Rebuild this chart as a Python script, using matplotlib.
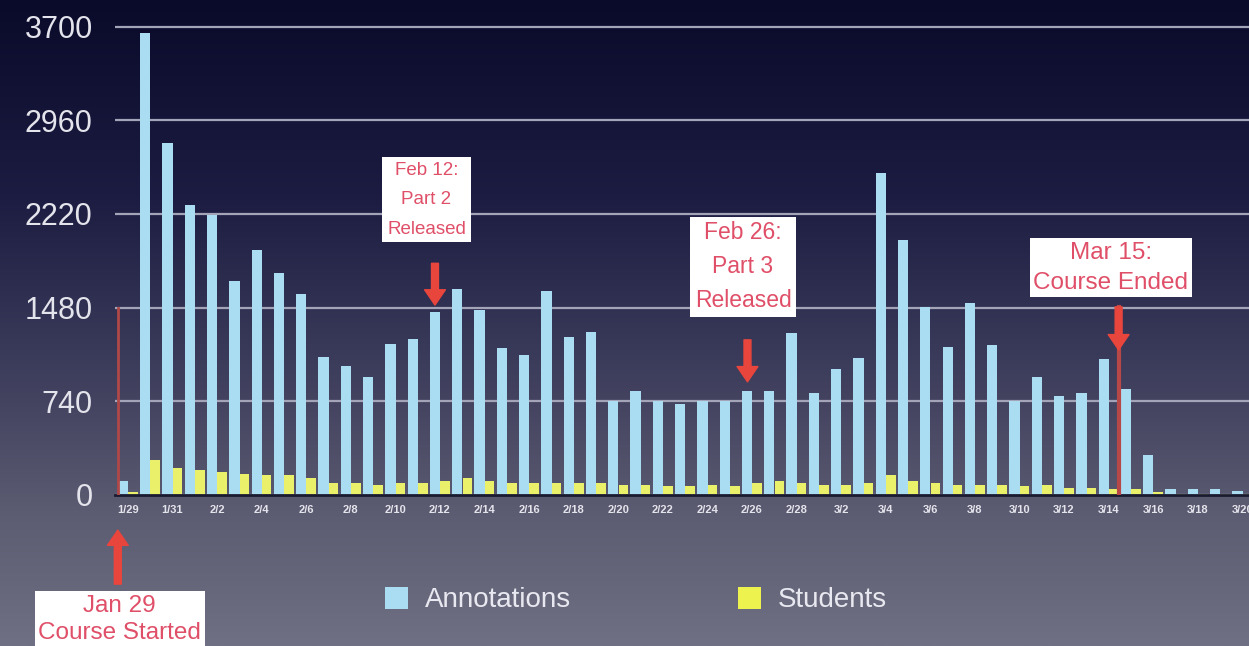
import numpy as np
import matplotlib
matplotlib.use("Agg")
import matplotlib.pyplot as plt
from matplotlib.patches import Patch

plt.rcParams['font.family'] = ['Liberation Sans', 'DejaVu Sans']

days = ["1/29", "1/30", "1/31", "2/1", "2/2", "2/3", "2/4", "2/5", "2/6", "2/7",
        "2/8", "2/9", "2/10", "2/11", "2/12", "2/13", "2/14", "2/15", "2/16", "2/17",
        "2/18", "2/19", "2/20", "2/21", "2/22", "2/23", "2/24", "2/25", "2/26", "2/27",
        "2/28", "3/1", "3/2", "3/3", "3/4", "3/5", "3/6", "3/7", "3/8", "3/9",
        "3/10", "3/11", "3/12", "3/13", "3/14", "3/15", "3/16", "3/17", "3/18", "3/19",
        "3/20"]

annotations = [110, 3650, 2780, 2290, 2215, 1690, 1935, 1755, 1590, 1090,
               1020, 935, 1195, 1228, 1447, 1630, 1463, 1160, 1107, 1613,
               1249, 1289, 743, 822, 743, 719, 743, 743, 822, 822,
               1281, 806, 996, 1080, 2546, 2016, 1486, 1170, 1518, 1186,
               743, 933, 783, 806, 1075, 838, 316, 45, 45, 45,
               30]

students = [25, 277, 216, 198, 180, 165, 158, 153, 132, 92,
            92, 74, 92, 92, 113, 132, 113, 97, 97, 92,
            97, 97, 74, 79, 66, 66, 74, 66, 92, 113,
            97, 79, 79, 97, 153, 113, 92, 79, 79, 79,
            66, 74, 53, 53, 45, 45, 26, 5, 5, 5,
            5]

y_ticks = [0, 740, 1480, 2220, 2960, 3700]

blue = '#aadcf2'
yellow = '#eaf06a'
red = '#e8453c'
pink = '#e04f68'

fig = plt.figure(figsize=(12.49, 6.46), dpi=100)

# background gradient
bg = fig.add_axes([0, 0, 1, 1])
stops = [0.0, 0.3, 0.55, 0.8, 1.0]
cols = np.array([[10, 10, 42], [28, 28, 66], [58, 58, 90], [92, 92, 114], [112, 112, 132]]) / 255
t = np.linspace(0, 1, 300)
grad = np.stack([np.interp(t, stops, cols[:, i]) for i in range(3)], axis=1)
bg.imshow(grad[:, None, :], aspect='auto', extent=[0, 1, 0, 1])
bg.axis('off')

ax = fig.add_axes([0.092, 0.234, 0.908, 0.7276])
ax.patch.set_alpha(0)

x = np.arange(len(days))
ax.bar(x - 0.22, annotations, width=0.46, color=blue, zorder=2)
ax.bar(x + 0.23, students, width=0.43, color=yellow, zorder=2)

ax.set_xlim(-0.58, 50.3)
ax.set_ylim(0, 3715)
ax.set_yticks(y_ticks)
ax.set_xticks(x[::2])
ax.set_xticklabels(days[::2])
ax.set_axisbelow(True)
ax.grid(axis='y', color='#a4a4b8', lw=1.6)
for s in ['left', 'right', 'top']:
    ax.spines[s].set_visible(False)
ax.spines['bottom'].set_color('#1a1a30')
ax.spines['bottom'].set_linewidth(2)
ax.tick_params(axis='y', length=0, pad=16, labelsize=22, labelcolor='#e4e4ec')
ax.tick_params(axis='x', length=0, pad=7, labelsize=8, labelcolor='#e4e4ec')
for lab in ax.get_xticklabels():
    lab.set_fontweight('bold')

# events
start = days.index("1/29") - 0.45
feb12 = days.index("2/12") - 0.22
feb26 = days.index("2/26") - 0.2
end = days.index("3/15") - 0.55


def arrow(xpos, y_from, y_to, transform=None):
    ax.annotate('', xy=(xpos, y_to), xytext=(xpos, y_from),
                xycoords=transform or 'data', textcoords=transform or 'data',
                annotation_clip=False,
                arrowprops=dict(arrowstyle='simple,head_width=0.75,head_length=0.55,tail_width=0.25',
                                mutation_scale=20, color=red, shrinkA=0, shrinkB=0))


def box(xpos, ypos, txt, size, spacing, transform=None, pad=0.2):
    ax.text(xpos, ypos, txt, transform=transform or ax.transData, ha='center', va='center',
            fontsize=size, color=pink, linespacing=spacing, clip_on=False,
            bbox=dict(boxstyle='square,pad=%s' % pad, fc='white', ec='none'))


ax.plot([start, start], [0, 1480], color='#b04848', lw=2, zorder=3)
ax.plot([end, end], [0, 1486], color='#b84848', lw=3, zorder=3)

arrow(feb12, 1830, 1500)
arrow(feb26, 1225, 893)
arrow(end, 1486, 1146)
arrow(start, -0.19, -0.075, ax.get_xaxis_transform())

box(13.4, 2332, "Feb 12:\nPart 2\nReleased", 13.5, 1.95, pad=0.25)
box(27.6, 1803, "Feb 26:\nPart 3\nReleased", 16.5, 1.6)
box(44.1, 1795, "Mar 15:\nCourse Ended", 17.5, 1.45, pad=0.15)
box(-0.36, -0.265, "Jan 29\nCourse Started", 17.5, 1.3, ax.get_xaxis_transform(), pad=0.15)

fig.legend(handles=[Patch(fc=blue, ec='none'), Patch(fc='#eef24e', ec='none')],
           labels=['Annotations', 'Students'], loc='center left',
           bbox_to_anchor=(0.308, 0.071), ncol=2, frameon=False, fontsize=20,
           handlelength=0.85, handleheight=0.85, handletextpad=0.6,
           columnspacing=6.0, borderpad=0, borderaxespad=0, labelcolor='#e8e8f0')

fig.savefig('out.png', dpi=100)
